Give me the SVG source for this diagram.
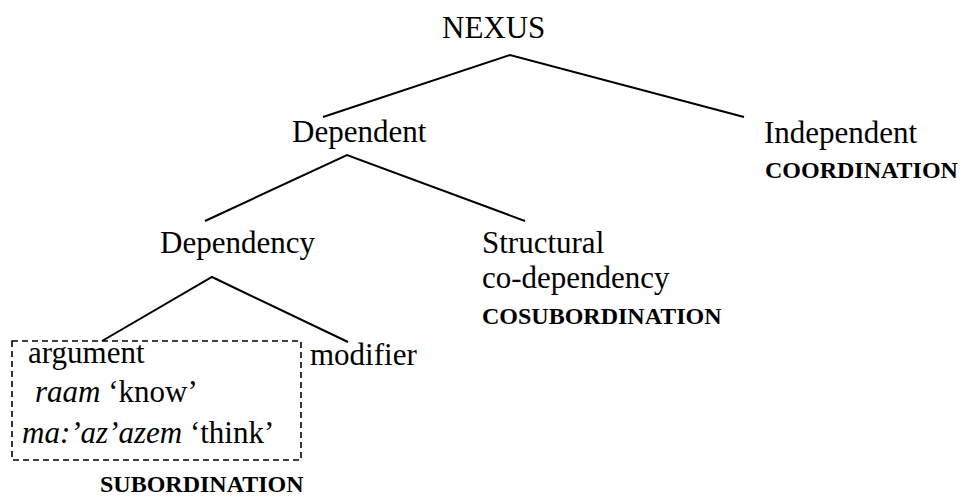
<svg xmlns="http://www.w3.org/2000/svg" width="969" height="498" viewBox="0 0 969 498">
  <style>
    text { font-family: "Liberation Serif", "Times New Roman", serif; fill: #000; }
    .n { font-size: 31px; }
    .b { font-size: 24px; font-weight: bold; }
    .i { font-style: italic; }
    .edge { stroke: #000; stroke-width: 2; fill: none; }
    .box { stroke: #000; stroke-width: 1.6; fill: none; stroke-dasharray: 6 4; }
  </style>
  <rect width="969" height="498" fill="#fff"/>

  <!-- tree branches -->
  <g id="connectors">
    <polyline class="edge" points="323,117 510,55 744,117"/>
    <polyline class="edge" points="205,221 347,155 525,221"/>
    <polyline class="edge" points="102,341 212,277 348,342"/>
  </g>

  <g id="nexus">
    <text class="n" x="442" y="38">NEXUS</text>
  </g>
  <g id="dependent">
    <text class="n" x="292" y="142">Dependent</text>
  </g>
  <g id="independent">
    <text class="n" x="764" y="143">Independent</text>
    <text class="b" x="765" y="178">COORDINATION</text>
  </g>
  <g id="dependency">
    <text class="n" x="160" y="253">Dependency</text>
  </g>
  <g id="structural">
    <text class="n" x="482" y="253">Structural</text>
    <text class="n" x="482" y="288">co-dependency</text>
    <text class="b" x="482" y="324">COSUBORDINATION</text>
  </g>
  <g id="argument">
    <rect class="box" x="12" y="341" width="289" height="119"/>
    <text class="n" x="28" y="363">argument</text>
    <text class="n" x="35" y="402"><tspan class="i">raam</tspan> ‘know’</text>
    <text class="n" x="22" y="443"><tspan class="i">ma:’az’azem</tspan> ‘think’</text>
    <text class="b" x="100" y="492">SUBORDINATION</text>
  </g>
  <g id="modifier">
    <text class="n" x="310" y="365">modifier</text>
  </g>
</svg>
